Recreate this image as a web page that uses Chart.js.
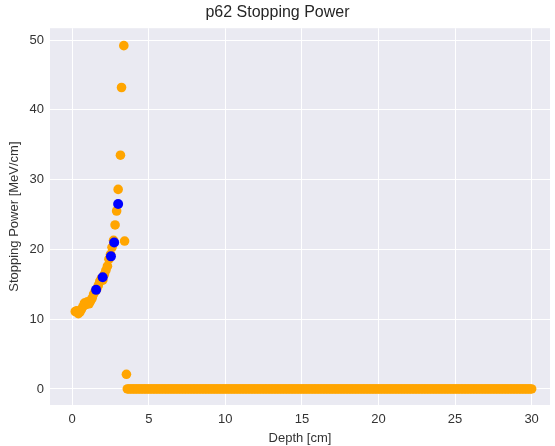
<!DOCTYPE html>
<html>
<head>
<meta charset="utf-8">
<script src="https://cdn.jsdelivr.net/npm/chart.js@4/dist/chart.umd.min.js"></script>
<style>
  body { margin: 0; background: #fff; }
  canvas { display: block; }
</style>
</head>
<body>
<canvas id="chart" width="555" height="446"></canvas>
<script>
// simulated stopping power (orange), build-up region then Bragg peak
var simDepth = [0.2, 0.3, 0.4, 0.5, 0.6, 0.7, 0.8, 0.9, 1.0, 1.1, 1.2, 1.3, 1.4, 1.5, 1.6, 1.7, 1.8, 1.9, 2.0, 2.1,
    2.2, 2.3, 2.4, 2.5, 2.6, 2.7, 2.8, 2.9, 3.0, 3.15, 3.22, 3.37, 3.42, 3.54]
var simPower = [11.1, 11.2, 10.8, 11.0, 11.4, 11.8, 12.3, 12.1, 12.5, 12.2, 12.6, 13.0, 13.6, 14.0, 14.3, 14.8, 15.4, 15.8, 15.6, 16.4,
    17.0, 17.6, 18.6, 19.3, 20.3, 21.3, 23.5, 25.5, 28.6, 33.5, 43.2, 49.2, 21.2, 2.1]

// past the peak the orange points sit on zero all the way to 30 cm
var tailStart = 3.6
var tailEnd = 30
var tailStep = 0.1
var tailPower = 0

// measured points (blue)
var measDepth = [1.56, 1.99, 2.53, 2.74, 3.0]
var measPower = [14.2, 16.0, 19.0, 21.0, 26.5]

var xTicks = [0, 5, 10, 15, 20, 25, 30]
var yTicks = [0, 10, 20, 30, 40, 50]

var orangePts = simDepth.map(function (d, i) { return { x: d, y: simPower[i] } })
for (var d = tailStart; d <= tailEnd + 1e-9; d += tailStep) {
    orangePts.push({ x: Math.round(d * 100) / 100, y: tailPower })
}
var bluePts = measDepth.map(function (d, i) { return { x: d, y: measPower[i] } })

var plotBg = {
    id: 'plotBg',
    beforeDraw: function (chart) {
        var a = chart.chartArea
        var c = chart.ctx
        c.save()
        c.fillStyle = '#eaeaf2'
        c.fillRect(a.left, a.top, a.right - a.left, a.bottom - a.top)
        c.restore()
    }
}

var font = "'Liberation Sans', Arial, sans-serif"
var ctx = document.getElementById('chart')
var chart = new Chart(ctx, {
    type: 'scatter',
    data: {
        datasets: [{
            label: 'simulation',
            data: orangePts,
            backgroundColor: '#ffa500',
            borderWidth: 0,
            pointRadius: 4.8,
            order: 2
        }, {
            label: 'measurement',
            data: bluePts,
            backgroundColor: '#0000ff',
            borderWidth: 0,
            pointRadius: 5,
            order: 1
        }]
    },
    options: {
        responsive: false,
        animation: false,
        devicePixelRatio: 1,
        layout: { padding: { left: 0, right: 0, top: 0, bottom: 0 } },
        plugins: {
            legend: { display: false },
            tooltip: { enabled: false },
            title: {
                display: true,
                text: 'p62 Stopping Power',
                color: '#262626',
                font: { family: font, size: 16, weight: 'normal' },
                padding: { top: 3, bottom: 6 }
            }
        },
        scales: {
            x: {
                type: 'linear',
                min: -1.45,
                max: 31.2,
                afterBuildTicks: function (s) { s.ticks = xTicks.map(function (v) { return { value: v } }) },
                afterFit: function (s) { s.height = 41 },
                grid: { color: '#ffffff', lineWidth: 1, drawTicks: false },
                border: { display: false },
                ticks: { color: '#333', padding: 7, font: { family: font, size: 13 }, maxRotation: 0 },
                title: { display: true, text: 'Depth [cm]', color: '#333', padding: 0, font: { family: font, size: 13 } }
            },
            y: {
                type: 'linear',
                min: -2.3,
                max: 51.7,
                afterBuildTicks: function (s) { s.ticks = yTicks.map(function (v) { return { value: v } }) },
                afterFit: function (s) { s.width = 50 },
                grid: { color: '#ffffff', lineWidth: 1, drawTicks: false },
                border: { display: false },
                ticks: { color: '#333', padding: 6, font: { family: font, size: 13 } },
                title: { display: true, text: 'Stopping Power [MeV/cm]', color: '#333', padding: { top: 7, bottom: 0 }, font: { family: font, size: 13 } }
            }
        }
    },
    plugins: [plotBg]
})
</script>
</body>
</html>
